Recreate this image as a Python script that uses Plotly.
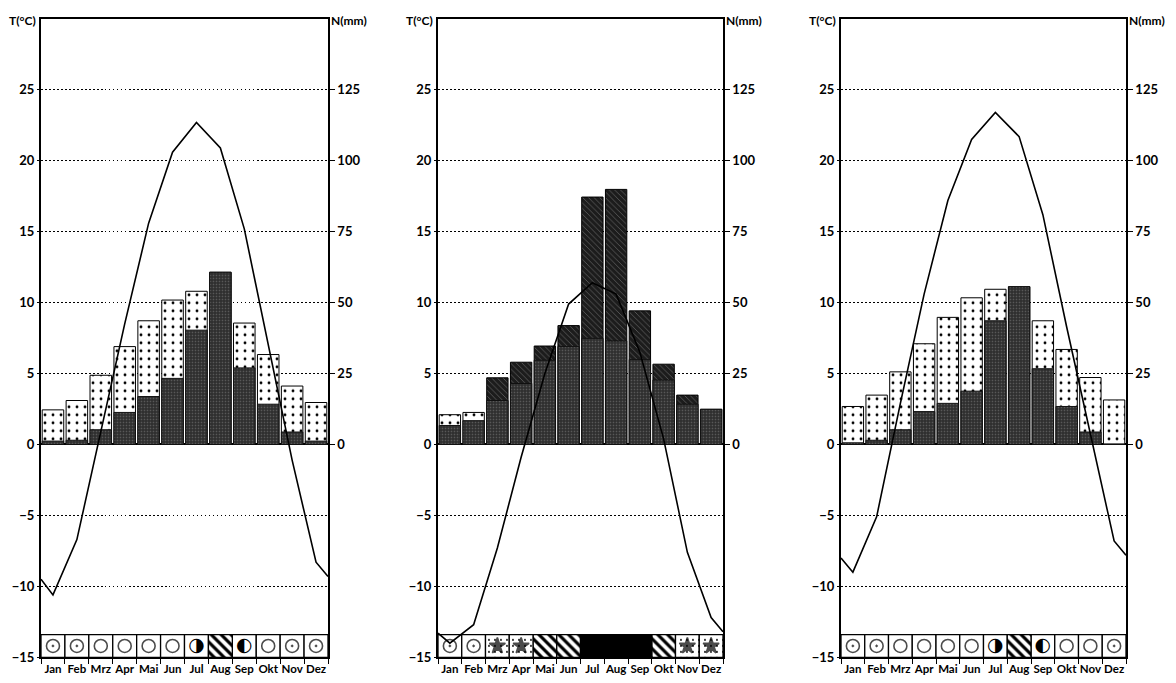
import plotly.graph_objects as go

# ---------------- data ----------------
months = ["Jan", "Feb", "Mrz", "Apr", "Mai", "Jun", "Jul", "Aug", "Sep", "Okt", "Nov", "Dez"]
month_pos = list(range(1, 13))

temp_tick_vals = [-15, -10, -5, 0, 5, 10, 15, 20, 25]
prec_tick_vals = [0, 25, 50, 75, 100, 125]
prec_neg_grid = [-50, -25]

# Panel 1
temp_1 = [-10.6, -6.7, 1.0, 8.5, 15.6, 20.6, 22.7, 20.9, 15.2, 7.0, -1.1, -8.3]
temp_edges_1 = [-9.5, -9.3]
prec_total_1 = [12.2, 15.5, 24.4, 34.5, 43.6, 50.9, 54.0, 60.7, 42.8, 31.7, 20.6, 14.8]
prec_lower_1 = [1.2, 1.5, 5.2, 11.3, 16.9, 23.3, 40.3, 60.7, 27.0, 14.2, 4.4, 1.2]
top_style_1 = ["dots"] * 12
symbols_1 = ["sun", "sun", "ring", "ring", "ring", "ring", "halfR", "hatch", "halfL", "ring", "sun", "sun"]

# Panel 2
temp_2 = [-14.0, -12.7, -7.3, -0.9, 5.0, 9.9, 11.4, 10.6, 6.5, 0.4, -7.6, -12.2]
temp_edges_2 = [-13.3, -13.2]
prec_total_2 = [10.5, 11.3, 23.5, 29.0, 34.7, 41.9, 87.2, 89.9, 47.1, 28.3, 17.4, 12.4]
prec_lower_2 = [6.7, 8.4, 15.5, 21.5, 29.7, 34.5, 37.4, 36.5, 29.9, 22.7, 14.2, 12.4]
top_style_2 = ["dots", "dots", "hatch", "hatch", "hatch", "hatch", "hatch", "hatch", "hatch", "hatch", "hatch", "hatch"]
symbols_2 = ["sun", "sun", "star", "star", "hatch", "hatch", "black", "black", "black", "hatch", "star", "star"]

# Panel 3
temp_3 = [-9.0, -5.1, 2.9, 10.6, 17.2, 21.5, 23.4, 21.7, 16.2, 8.3, 0.8, -6.8]
temp_edges_3 = [-8.0, -7.8]
prec_total_3 = [13.4, 17.4, 25.6, 35.5, 44.8, 51.7, 54.7, 55.6, 43.6, 33.5, 23.6, 15.7]
prec_lower_3 = [0.6, 1.5, 5.2, 11.6, 14.5, 18.8, 43.6, 55.6, 26.7, 13.4, 4.4, 0.2]
top_style_3 = ["dots"] * 12
symbols_3 = ["sun", "sun", "ring", "ring", "ring", "ring", "halfR", "hatch", "halfL", "ring", "ring", "sun"]

panels = [
    (temp_1, temp_edges_1, prec_total_1, prec_lower_1, top_style_1, symbols_1),
    (temp_2, temp_edges_2, prec_total_2, prec_lower_2, top_style_2, symbols_2),
    (temp_3, temp_edges_3, prec_total_3, prec_lower_3, top_style_3, symbols_3),
]

# ---------------- layout geometry / styles ----------------
W, H = 1176, 683
OFF_X = 8
x_px = [(41, 328), (438, 723), (841, 1126)]
y_top_px, y_bot_px = 11, 657
y_dom = [(H - y_bot_px) / H, (H - y_top_px) / H]
FONT = "Lato"
GRID_DASH = "1.5px,2.5px"

TOP_STYLE = {
    "dots": dict(color="white", pattern=dict(shape=".", fgcolor="black", bgcolor="white",
                                             size=8, solidity=0.1, fillmode="replace")),
    "hatch": dict(color="#1c1c1c", pattern=dict(shape="\\", fgcolor="#606060", bgcolor="#1c1c1c",
                                                size=4, solidity=0.2, fillmode="replace")),
}
CELL_STYLE = {
    "plain": dict(color="white"),
    "hatch": dict(color="white", pattern=dict(shape="\\", fgcolor="black", bgcolor="white",
                                              size=7, solidity=0.45, fillmode="replace")),
    "black": dict(color="black"),
    "star": dict(color="white", pattern=dict(shape=".", fgcolor="black", bgcolor="white",
                                             size=6, solidity=0.08, fillmode="replace")),
}
CELL_OF = {"sun": "plain", "ring": "plain", "halfR": "plain", "halfL": "plain",
           "hatch": "hatch", "black": "black", "star": "star"}
MARKER_SYM = {"sun": "circle-open-dot", "ring": "circle-open", "star": "star"}
HALF_TEXT = {"halfR": "\u25D1", "halfL": "\u25D0"}

fig = go.Figure()
layout = dict(
    width=W, height=H, margin=dict(l=0, r=0, t=0, b=0),
    paper_bgcolor="white", plot_bgcolor="white",
    barmode="overlay", showlegend=False,
    font=dict(family=FONT, size=13, color="black", weight=700),
    annotations=[],
)

for k, (temps, edges, ptot, plow, tstyle, syms) in enumerate(panels):
    xn = "x" if k == 0 else f"x{k+1}"
    ymm = "y" if k == 0 else f"y{2*k+1}"
    yt = f"y{2*k+2}"
    xa = "xaxis" if k == 0 else f"xaxis{k+1}"
    ya_mm = "yaxis" if k == 0 else f"yaxis{2*k+1}"
    ya_t = f"yaxis{2*k+2}"
    dom = [(x_px[k][0] - OFF_X) / W, (x_px[k][1] - OFF_X) / W]

    # total precipitation, drawn with the style of its upper segment
    for style, spec in TOP_STYLE.items():
        xs = [m for m, s in zip(month_pos, tstyle) if s == style]
        ys = [v for v, s in zip(ptot, tstyle) if s == style]
        if not xs:
            continue
        fig.add_trace(go.Bar(
            x=xs, y=ys, xaxis=xn, yaxis=ymm, width=0.9,
            marker=dict(line=dict(color="black", width=1), **spec),
            hoverinfo="skip",
        ))
    # lower dark segment
    fig.add_trace(go.Bar(
        x=month_pos, y=plow, xaxis=xn, yaxis=ymm, width=0.9,
        marker=dict(
            color="#333333",
            line=dict(color="#111111", width=1),
            pattern=dict(shape=".", fgcolor="#5c5c5c", bgcolor="#2e2e2e", size=3, solidity=0.25,
                         fillmode="replace"),
        ),
        hoverinfo="skip",
    ))

    # symbol row cells
    for cstyle, spec in CELL_STYLE.items():
        xs = [m for m, s in zip(month_pos, syms) if CELL_OF[s] == cstyle]
        if not xs:
            continue
        fig.add_trace(go.Bar(
            x=xs, y=[1.6] * len(xs), base=-15, xaxis=xn, yaxis=yt, width=1.0,
            marker=dict(line=dict(color="black", width=1.3), **spec),
            hoverinfo="skip",
        ))
    # marker symbols
    mx = [m for m, s in zip(month_pos, syms) if s in MARKER_SYM]
    ms = [MARKER_SYM[s] for s in syms if s in MARKER_SYM]
    fig.add_trace(go.Scatter(
        x=mx, y=[-14.2] * len(mx), xaxis=xn, yaxis=yt, mode="markers",
        marker=dict(symbol=ms, size=[13 if s != "star" else 12 for s in ms], color="black",
                    line=dict(color="black", width=1.6)),
        hoverinfo="skip",
    ))
    hx = [m for m, s in zip(month_pos, syms) if s in HALF_TEXT]
    ht = [HALF_TEXT[s] for s in syms if s in HALF_TEXT]
    if hx:
        fig.add_trace(go.Scatter(
            x=hx, y=[-14.2] * len(hx), xaxis=xn, yaxis=yt, mode="text", text=ht,
            textfont=dict(family="DejaVu Sans", size=19, color="black"),
            textposition="middle center", hoverinfo="skip",
        ))

    # temperature curve
    fig.add_trace(go.Scatter(
        x=[0.5] + month_pos + [12.5], y=[edges[0]] + temps + [edges[1]],
        xaxis=xn, yaxis=yt, mode="lines",
        line=dict(color="black", width=1.6), hoverinfo="skip",
    ))

    layout[xa] = dict(
        domain=dom, anchor=ymm, range=[0.5, 12.5],
        tickmode="array", tickvals=month_pos, ticktext=months, ticks="",
        tickfont=dict(size=11.5), showgrid=False, zeroline=False,
        showline=True, mirror=True, linecolor="black", linewidth=1.5,
        minor=dict(tickmode="array", tickvals=[m - 0.5 for m in month_pos] + [12.5],
                   ticks="outside", ticklen=5, tickcolor="black", tickwidth=1.2, showgrid=False),
    )
    layout[ya_mm] = dict(
        domain=y_dom, anchor=xn, side="right", range=[-75, 150],
        tickmode="array", tickvals=prec_tick_vals, ticks="outside", ticklen=5,
        tickcolor="black", tickwidth=1.2, tickfont=dict(size=13),
        showgrid=True, gridcolor="black", griddash=GRID_DASH, gridwidth=1.3,
        zeroline=True, zerolinecolor="black", zerolinewidth=1.8,
        showline=True, mirror=True, linecolor="black", linewidth=1.5,
        minor=dict(tickmode="array", tickvals=prec_neg_grid, ticks="",
                   showgrid=True, gridcolor="black", griddash=GRID_DASH, gridwidth=1.3),
    )
    layout[ya_t] = dict(
        overlaying=ymm, anchor=xn, side="left", range=[-15, 30],
        tickmode="array", tickvals=temp_tick_vals, ticks="outside", ticklen=3,
        tickcolor="black", tickfont=dict(size=13),
        showgrid=False, zeroline=False, showline=False,
    )
    layout["annotations"].append(dict(
        text="T(°C)", xref=f"{xn} domain", yref=f"{ymm} domain", x=0, y=1,
        xanchor="right", yanchor="middle", xshift=-3, yshift=-2, showarrow=False,
        font=dict(size=12)))
    layout["annotations"].append(dict(
        text="N(mm)", xref=f"{xn} domain", yref=f"{ymm} domain", x=1, y=1,
        xanchor="left", yanchor="middle", xshift=1, yshift=-2, showarrow=False,
        font=dict(size=12)))

fig.update_layout(**layout)
fig.write_html("out.html")
